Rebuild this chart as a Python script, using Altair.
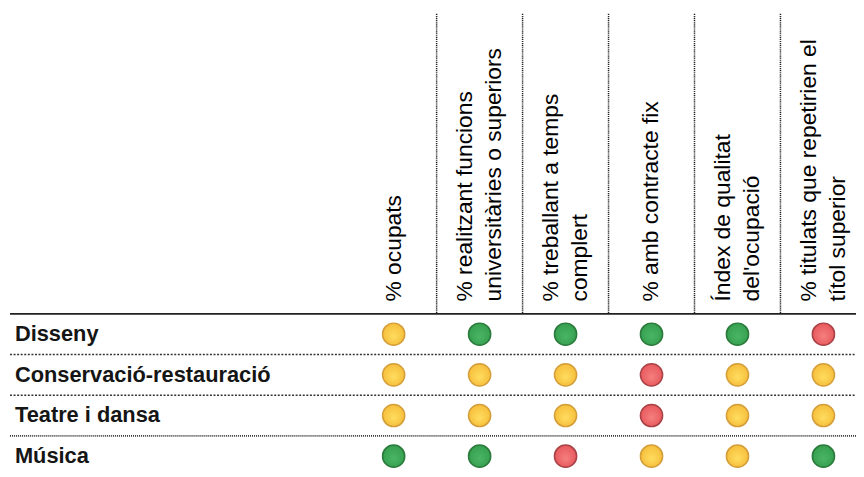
import altair as alt
import pandas as pd

rows = ["Disseny", "Conservació-restauració", "Teatre i dansa", "Música"]
columns = [
    "% ocupats",
    "% realitzant funcions\nuniversitàries o superiors",
    "% treballant a temps\ncomplert",
    "% amb contracte fix",
    "Índex de qualitat\ndel'ocupació",
    "% titulats que repetirien el\ntítol superior",
]
status_disseny = ["Y", "G", "G", "G", "G", "R"]
status_conservacio = ["Y", "Y", "Y", "R", "Y", "Y"]
status_teatre = ["Y", "Y", "Y", "R", "Y", "Y"]
status_musica = ["G", "G", "R", "Y", "Y", "G"]
statuses = [status_disseny, status_conservacio, status_teatre, status_musica]

cells = pd.DataFrame(
    [{"row": r, "col": c, "status": s}
     for r, st in zip(rows, statuses) for c, s in zip(columns, st)]
)
cols_df = pd.DataFrame({"col": columns, "lines": [c.count("\n") + 1 for c in columns]})
seps_df = pd.DataFrame({"col": columns[1:]})
rows_df = pd.DataFrame({"row": rows})
top_df = pd.DataFrame({"row": rows[:1]})
dot_df = pd.DataFrame({"row": rows[1:3]})
wave_df = pd.DataFrame({"row": rows[3:]})

W, H = 855, 461
xscale = alt.Scale(domain=columns, range=[345.5, 865.5], paddingInner=0, paddingOuter=0)
yscale = alt.Scale(domain=rows, range=[306.5, 470.5], paddingInner=0, paddingOuter=0)
FONT = "Liberation Sans"


def X(**kw):
    return alt.X("col:N", scale=xscale, axis=None, **kw)


def Y(**kw):
    return alt.Y("row:N", scale=yscale, axis=None, **kw)


LH = 29
head_style = dict(angle=270, align="left", baseline="middle", lineBreak="\n",
                  fontSize=23, font=FONT, lineHeight=LH, color="#000000")

header1 = alt.Chart(cols_df).transform_filter(alt.datum.lines == 1).mark_text(
    **head_style).encode(x=X(), y=alt.value(294), text="col:N")
header2 = alt.Chart(cols_df).transform_filter(alt.datum.lines == 2).mark_text(
    dy=-LH / 2, **head_style).encode(x=X(), y=alt.value(294), text="col:N")

colseps = alt.Chart(seps_df).mark_rule(
    color="#222222", strokeWidth=1.5, strokeDash=[1.2, 0.9]
).encode(x=X(bandPosition=0), y=alt.value(4), y2=alt.value(306))

topline = alt.Chart(top_df).mark_rule(color="#222222", strokeWidth=2).encode(
    x=alt.value(2), x2=alt.value(W), y=Y(bandPosition=0)
)

dotseps = alt.Chart(dot_df).mark_rule(
    color="#333333", strokeWidth=1.6, strokeDash=[2, 1.6]
).encode(x=alt.value(2), x2=alt.value(W), y=Y(bandPosition=0))

waveseps = alt.Chart(wave_df).mark_rule(
    color="#333333", strokeWidth=1.8, strokeDash=[1, 1]
).encode(x=alt.value(2), x2=alt.value(W), y=Y(bandPosition=0))

labels = alt.Chart(rows_df).mark_text(
    align="left", baseline="middle", fontSize=22, fontWeight="bold",
    font=FONT, color="#151515"
).encode(x=alt.value(7), y=Y(), text="row:N")


def grad(light, dark):
    return alt.RadialGradient(
        gradient="radial",
        x1=0.5, y1=0.62, r1=0.0, x2=0.5, y2=0.5, r2=0.5,
        stops=[alt.GradientStop(color=light, offset=0),
               alt.GradientStop(color=dark, offset=1)],
    )


styles = {
    "Y": ("#FFDD60", "#F6BF3C", "#D49E3A"),
    "G": ("#4AB665", "#36A050", "#2B7A3C"),
    "R": ("#F5807F", "#E85A5E", "#A84246"),
}

circles = []
for key, (light, dark, border) in styles.items():
    circles.append(
        alt.Chart(cells).transform_filter(alt.datum.status == key).mark_point(
            shape="circle", filled=True, size=500, opacity=1,
            fill=grad(light, dark), stroke=border, strokeWidth=1.5
        ).encode(x=X(), y=Y())
    )

chart = alt.layer(header1, header2, colseps, topline, dotseps, waveseps, labels,
                  *circles).properties(
    width=W, height=H, autosize=alt.AutoSizeParams(type="none"), padding=0
).configure_view(stroke=None)

chart.save("out.html", embed_options={"renderer": "svg", "actions": False})
